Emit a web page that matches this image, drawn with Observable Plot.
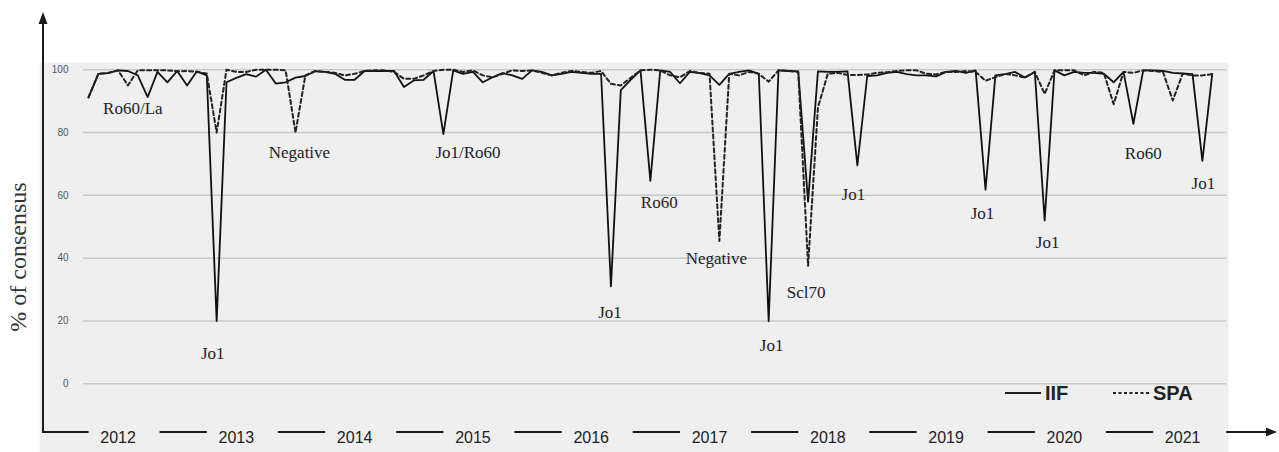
<!DOCTYPE html>
<html><head><meta charset="utf-8">
<script src="https://cdn.jsdelivr.net/npm/d3@7"></script>
<script src="https://cdn.jsdelivr.net/npm/@observablehq/plot@0.6"></script>
<style>body{margin:0;background:#fff}</style>
</head><body><div id="chart"></div>
<script>
// Monthly EQA results, % of consensus (first sample = index 0)
const iif = [91.2,98.7,98.9,99.8,99.6,98.2,91.3,99.3,96,99.6,95,99.5,98.2,20,96,97.4,98.6,97.8,100,95.6,
  96,97.5,98,99.5,99.3,98.7,96.8,96.8,99.6,99.6,99.6,99.6,94.5,96.6,96.8,99.6,79.5,99.8,98.7,99.3,
  96,97.6,98.9,98.2,97.1,99.8,99.3,98.2,98.7,99.3,99,98.7,98.7,31,93.5,96.8,99.8,64.6,99.8,99.3,
  95.7,99.3,98.9,98.2,95.2,98.7,99.3,99.8,98.7,20,99.8,99.6,99.5,58,99.5,99.3,99.3,99.5,69.5,98,
  98.2,99,99.3,98.6,98.2,98.2,97.9,99.3,99.6,99,99.8,61.8,98.2,98.6,99.3,97.5,99.3,52,99.8,98.2,
  99.3,99,99,98.7,96,99.3,82.8,99.8,99.8,99.6,99,98.8,98.6,71,98.7];
const spa = [91.2,98.7,99,99.8,95,99.8,99.8,99.8,99.8,99.5,99.6,99.3,98.8,80,100,99.3,99.3,100,100,100,
  99.8,80,98.2,99.6,99.3,99,98.2,98.7,99.6,99.8,99.8,99.3,97.1,97.1,98.2,99.6,100,100,99.3,99.8,
  98.2,97.6,98.7,99.8,99.6,99.8,99,98.2,99,99.6,99.3,99,99.6,95.5,95,97.4,99.8,100,99.8,98.2,
  97.6,99.6,99,98.7,45.5,98.7,98.2,99.3,98.7,96.2,99.8,99.6,99.3,37.6,88,98.7,99,98.3,98.3,98.5,
  99,99.2,99.6,99.8,99.8,98.7,98.5,99.3,99.3,99.6,99.3,96.5,97.6,98.7,98.2,97.5,99.3,92.3,99.8,99.8,
  99.8,98.2,99.3,99,89,99.3,99,99.8,99.6,99.3,90.2,98.7,98.2,98.2,98.6];
const years = [2012,2013,2014,2015,2016,2017,2018,2019,2020,2021];
const yTicks = [0,20,40,60,80,100];
const seriesNames = ["IIF","SPA"];
// annotations: label, x (sample index), y (% level where the label sits)
const annLabels = ["Ro60/La","Jo1","Negative","Jo1/Ro60","Jo1","Ro60","Negative","Jo1","Scl70","Jo1","Jo1","Jo1","Ro60","Jo1"];
const annX = [4.5,12.6,21.4,38.5,52.9,57.9,63.7,69.3,72.8,77.6,90.7,97.3,107,113.1];
const annY = [87.6,9.5,73.6,73.6,22.6,57.6,40,12.1,29,60.2,54.1,45,73.2,63.7];

// year group centre (12 monthly samples per year)
const yearPos = years.map((y, k) => 12 * k + 3);

const plot = Plot.plot({
  width: 1279, height: 452,
  marginLeft: 43, marginRight: 51, marginTop: 62, marginBottom: 20,
  x: {domain: [-4.565, 115.65], axis: null},
  y: {domain: [-15.5, 102.3], axis: null},
  marks: [
    Plot.frame({fill: "#efefef", stroke: null, insetLeft: -4, insetBottom: -20}),
    Plot.ruleY(yTicks, {stroke: "#c8c8c8", strokeWidth: 1.5, insetLeft: 40, insetRight: 2}),
    Plot.text(yTicks, {y: d => d, text: d => String(d), frameAnchor: "left", dx: 25, textAnchor: "end",
      fontSize: 10, fill: "#555", fontFamily: "Liberation Sans, Arial, sans-serif"}),
    Plot.line(iif, {x: (d, i) => i, y: d => d, stroke: "#111", strokeWidth: 1.8}),
    Plot.line(spa, {x: (d, i) => i, y: d => d, stroke: "#222", strokeWidth: 2, strokeDasharray: "4,3"}),
    Plot.text(annLabels, {x: (d, i) => annX[i], y: (d, i) => annY[i], text: d => d,
      fontFamily: "Liberation Serif, Times New Roman, serif", fontSize: 17, fill: "#222"}),
    Plot.text(years, {x: (d, k) => yearPos[k], text: d => String(d), frameAnchor: "bottom", dy: 5,
      lineAnchor: "middle", fontSize: 16, fill: "#222", fontFamily: "Liberation Sans, Arial, sans-serif"})
  ]
});
document.getElementById("chart").appendChild(plot);

// axis decorations (arrows, broken category axis), y title, legend
const svg = d3.select(plot);
const xs = plot.scale("x");
const L = 43, B = 432, W = 1279;
const g = svg.append("g").attr("stroke", "#1a1a1a").attr("fill", "#1a1a1a");
g.append("line").attr("x1", L).attr("x2", L).attr("y1", B + 1).attr("y2", 22).attr("stroke-width", 2);
g.append("path").attr("d", `M${L},12L${L - 4.5},24L${L + 4.5},24Z`).attr("stroke", "none");
const cx = yearPos.map(p => xs.apply(p));
const segs = [[L - 1, cx[0] - 29]];
for (let k = 0; k < cx.length - 1; k++) segs.push([cx[k] + 42, cx[k + 1] - 29]);
segs.push([cx[cx.length - 1] + 44, W - 10]);
segs.forEach(([a, b]) => g.append("line").attr("x1", a).attr("x2", b).attr("y1", B).attr("y2", B).attr("stroke-width", 2));
g.append("path").attr("d", `M${W - 2},${B}L${W - 13},${B - 4.5}L${W - 13},${B + 4.5}Z`).attr("stroke", "none");

svg.append("text").attr("transform", "translate(26,257) rotate(-90)").attr("text-anchor", "middle")
  .attr("font-family", "Liberation Serif, Times New Roman, serif").attr("font-size", 24).attr("fill", "#333")
  .text("% of consensus");

const lg = svg.append("g").attr("font-family", "Liberation Sans, Arial, sans-serif").attr("font-size", 20)
  .attr("font-weight", "bold").attr("fill", "#222").attr("text-anchor", "start");
const legendX = [1005, 1113];
seriesNames.forEach((name, k) => {
  const x0 = legendX[k];
  lg.append("line").attr("x1", x0).attr("x2", x0 + 36).attr("y1", 393).attr("y2", 393)
    .attr("stroke", "#222").attr("stroke-width", 2).attr("stroke-dasharray", k ? "3,2.5" : null);
  lg.append("text").attr("x", x0 + 40).attr("y", 400).text(name);
});
</script>
</body></html>
